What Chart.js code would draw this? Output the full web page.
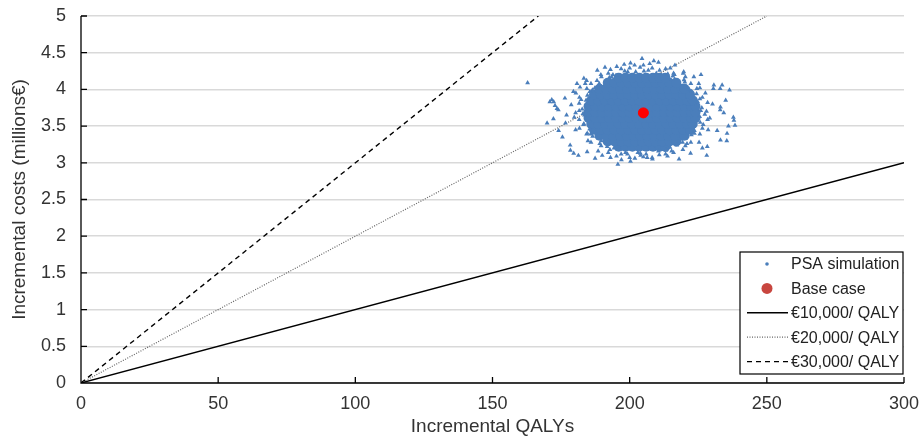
<!DOCTYPE html>
<html>
<head>
<meta charset="utf-8">
<script src="https://cdn.jsdelivr.net/npm/chart.js@4.4.1/dist/chart.umd.min.js"></script>
<style>
  html, body { margin: 0; padding: 0; background: #fff; }
  #wrap { width: 921px; height: 441px; }
</style>
</head>
<body>
<div id="wrap"><canvas id="ceChart" width="921" height="441"></canvas></div>
<script>
// Cost-effectiveness plane - PSA cloud, base case and WTP lines

// axis ticks
const xTicks = [0, 50, 100, 150, 200, 250, 300];
const yTicks = [0, 0.5, 1, 1.5, 2, 2.5, 3, 3.5, 4, 4.5, 5];
const yTickLabels = ['0', '0.5', '1', '1.5', '2', '2.5', '3', '3.5', '4', '4.5', '5'];

// base case (QALYs, millions €)
const baseCaseX = 205;
const baseCaseY = 3.68;

// willingness-to-pay lines, from the origin to the edge of the plot
const wtpLabels = ['€10,000/ QALY', '€20,000/ QALY', '€30,000/ QALY'];
const wtpEndX = [300, 250, 166.7];
const wtpEndY = [3, 5, 5];

// PSA simulation: dense middle of the cloud, one row per cost level
const psaCoreRows = [
    [3.22, [196, 198.5, 201, 203.5, 206, 208.5, 211, 213]],
    [3.29, [192, 194.5, 197, 199.5, 202, 204.5, 207, 209.5, 212, 214.5, 217]],
    [3.37, [189, 191.5, 194, 196.5, 199, 201.5, 204, 206.5, 209, 211.5, 214, 216.5, 219, 220]],
    [3.45, [187, 189.5, 192, 194.5, 197, 199.5, 202, 204.5, 207, 209.5, 212, 214.5, 217, 219.5, 222]],
    [3.53, [186, 188.5, 191, 193.5, 196, 198.5, 201, 203.5, 206, 208.5, 211, 213.5, 216, 218.5, 221, 223]],
    [3.61, [185, 187.5, 190, 192.5, 195, 197.5, 200, 202.5, 205, 207.5, 210, 212.5, 215, 217.5, 220, 222.5, 224]],
    [3.69, [185, 187.5, 190, 192.5, 195, 197.5, 200, 202.5, 205, 207.5, 210, 212.5, 215, 217.5, 220, 222.5, 224]],
    [3.77, [185, 187.5, 190, 192.5, 195, 197.5, 200, 202.5, 205, 207.5, 210, 212.5, 215, 217.5, 220, 222.5, 224]],
    [3.85, [186, 188.5, 191, 193.5, 196, 198.5, 201, 203.5, 206, 208.5, 211, 213.5, 216, 218.5, 221, 223]],
    [3.93, [187, 189.5, 192, 194.5, 197, 199.5, 202, 204.5, 207, 209.5, 212, 214.5, 217, 219.5, 222]],
    [4.01, [189, 191.5, 194, 196.5, 199, 201.5, 204, 206.5, 209, 211.5, 214, 216.5, 219, 220]],
    [4.09, [192, 194.5, 197, 199.5, 202, 204.5, 207, 209.5, 212, 214.5, 217]],
    [4.16, [196, 198.5, 201, 203.5, 206, 208.5, 211, 213]]
];

// PSA simulation: scattered runs round the edge of the cloud
const psaEdgeX = [
    226.3, 224.8, 224.4, 221.7, 220.1, 216.4, 213.9, 209.7, 206.8, 202.2, 199.3, 195.0,
    192.6, 188.9, 187.3, 184.6, 184.1, 182.7, 183.5, 183.3, 185.4, 186.5, 189.7, 191.8,
    195.8, 198.5, 203.0, 206.0, 210.5, 213.2, 217.2, 219.3, 222.5, 223.6, 225.7, 225.5,
    228.0, 228.4, 226.5, 225.6, 222.3, 220.3, 216.0, 213.1, 208.2, 205.0, 200.0, 196.9,
    192.2, 189.7, 185.9, 184.4, 181.7, 181.6, 180.3, 181.6, 181.7, 184.3, 185.9, 189.6,
    192.2, 196.9, 200.0, 205.0, 208.2, 213.1, 216.0, 220.3, 222.3, 225.6, 226.5, 228.4,
    225.9, 222.6, 215.7, 205.2, 193.4, 186.4, 183.0, 185.8, 194.3, 203.9, 214.7, 223.2,
    227.4, 225.6, 224.5, 219.8, 216.3, 210.9, 203.8, 198.2, 193.9, 188.1, 185.5, 182.3,
    181.6, 183.2, 184.6, 189.1, 192.8, 199.2, 204.0, 210.8, 215.3, 220.9, 223.6, 226.8,
    230.2, 227.6, 225.2, 219.5, 214.8, 207.3, 201.8, 195.3, 189.5, 183.8, 180.4, 178.7,
    179.8, 180.3, 184.8, 188.5, 195.2, 201.9, 208.3, 213.8, 219.4, 225.3, 228.6, 229.2,
    162.8, 195.7, 204.5, 238.0, 238.4, 236.4, 233.7, 169.9, 170.9, 172.3, 172.2, 174.1,
    178.4, 179.6, 184.5, 193.0, 200.3, 206.4, 222.2, 228.3, 233.1, 235.5, 188.2, 193.0,
    200.3, 208.8, 210.5, 219.7, 223.4, 230.7, 180.8, 183.3, 173.5, 176.6, 233.1, 234.3,
    231.9, 171.6, 172.8, 174.0, 176.4, 179.5, 181.9, 184.3, 178.3, 181.3, 187.4, 233.0,
    230.5, 237.8, 235.4, 233.0, 228.1, 216.5, 198.0, 191.0, 226.0, 226.5, 218.0, 197.0,
    190.0, 175.5, 177.0, 235.0, 236.0
];
const psaEdgeY = [
    3.75, 3.83, 3.94, 4.00, 4.10, 4.14, 4.21, 4.22, 4.26, 4.24, 4.24, 4.19,
    4.16, 4.08, 4.02, 3.92, 3.85, 3.73, 3.65, 3.53, 3.46, 3.36, 3.30, 3.22,
    3.19, 3.14, 3.14, 3.12, 3.16, 3.17, 3.24, 3.28, 3.38, 3.44, 3.55, 3.63,
    3.70, 3.82, 3.89, 4.02, 4.08, 4.17, 4.22, 4.28, 4.29, 4.33, 4.29, 4.28,
    4.22, 4.17, 4.08, 4.01, 3.89, 3.81, 3.68, 3.59, 3.47, 3.39, 3.28, 3.23,
    3.14, 3.12, 3.07, 3.08, 3.07, 3.12, 3.14, 3.23, 3.28, 3.39, 3.47, 3.59,
    3.71, 3.97, 4.18, 4.25, 4.17, 3.99, 3.67, 3.39, 3.20, 3.13, 3.21, 3.41,
    3.66, 3.87, 4.01, 4.13, 4.20, 4.26, 4.30, 4.25, 4.20, 4.12, 3.97, 3.86,
    3.71, 3.52, 3.40, 3.26, 3.18, 3.12, 3.10, 3.11, 3.16, 3.26, 3.40, 3.52,
    3.80, 3.95, 4.08, 4.22, 4.29, 4.35, 4.33, 4.31, 4.20, 4.08, 3.95, 3.79,
    3.62, 3.45, 3.30, 3.16, 3.09, 3.06, 3.05, 3.09, 3.18, 3.28, 3.45, 3.61,
    4.09, 2.98, 4.42, 3.58, 3.51, 3.99, 4.06, 3.54, 3.83, 3.83, 3.60, 3.44,
    3.17, 3.13, 3.15, 3.07, 3.02, 3.07, 3.13, 3.22, 3.31, 3.40, 4.26, 4.27,
    4.36, 4.39, 4.37, 4.24, 4.17, 4.06, 4.08, 4.15, 3.74, 3.54, 3.76, 3.68,
    3.44, 3.86, 3.78, 3.72, 3.88, 3.97, 4.03, 4.12, 3.24, 3.10, 3.06, 4.01,
    4.01, 3.62, 3.30, 3.72, 3.10, 4.33, 4.34, 4.30, 4.20, 3.20, 3.05, 3.04,
    3.10, 3.35, 3.65, 3.85, 3.50
];

const psaColor = '#4A7EBB';
const baseColor = '#FF0000';
const baseLegendColor = '#C8463F';
const fontFamily = '"Liberation Sans", Arial, sans-serif';

Chart.defaults.font.family = fontFamily;
Chart.defaults.color = '#333';

const psaCoreData = psaCoreRows.flatMap(([y, xs]) => xs.map(x => ({ x: x, y: y })));
const psaEdgeData = psaEdgeX.map((x, i) => ({ x: x, y: psaEdgeY[i] }));

const lineStyles = [
    { color: '#000', width: 1.4, dash: [] },
    { color: '#666', width: 1.2, dash: [1, 1.5] },
    { color: '#000', width: 1.4, dash: [5, 4] }
];

const wtpDatasets = wtpLabels.map((label, i) => ({
    type: 'line',
    label: label,
    data: [{ x: 0, y: 0 }, { x: wtpEndX[i], y: wtpEndY[i] }],
    borderColor: lineStyles[i].color,
    borderWidth: lineStyles[i].width,
    borderDash: lineStyles[i].dash,
    pointRadius: 0,
    fill: false,
    order: 3
}));

// stop the tick labels from pushing the plot area in
function clearAxisPadding(axis) {
    axis.paddingTop = 0;
    axis.paddingBottom = 0;
    axis.paddingLeft = 0;
    axis.paddingRight = 0;
}

// inward tick marks, axis lines and the boxed legend
const frameAndLegend = {
    id: 'frameAndLegend',
    afterDraw(chart) {
        const ctx = chart.ctx;
        const area = chart.chartArea;
        const xs = chart.scales.x;
        const ys = chart.scales.y;
        ctx.save();
        ctx.strokeStyle = '#000';
        ctx.lineWidth = 1.3;
        ctx.beginPath();
        ctx.moveTo(area.left, area.top);
        ctx.lineTo(area.left, area.bottom);
        ctx.lineTo(area.right, area.bottom);
        yTicks.forEach(v => {
            const py = ys.getPixelForValue(v);
            ctx.moveTo(area.left, py);
            ctx.lineTo(area.left + 6, py);
        });
        xTicks.forEach(v => {
            const px = xs.getPixelForValue(v);
            ctx.moveTo(px, area.bottom);
            ctx.lineTo(px, area.bottom - 6);
        });
        ctx.stroke();

        // legend box
        const boxW = 163, boxH = 122;
        const bx = area.right - 1 - boxW;
        const by = area.bottom - 9 - boxH;
        ctx.fillStyle = '#fff';
        ctx.fillRect(bx, by, boxW, boxH);
        ctx.strokeStyle = '#000';
        ctx.lineWidth = 1.2;
        ctx.setLineDash([]);
        ctx.strokeRect(bx, by, boxW, boxH);

        const entries = ['PSA simulation', 'Base case'].concat(wtpLabels);
        const symX = bx + 27;
        const textX = bx + 51;
        ctx.font = '16px ' + fontFamily;
        ctx.textBaseline = 'middle';
        ctx.textAlign = 'left';
        entries.forEach((label, i) => {
            const ey = by + 12 + i * 24.4;
            if (i === 0) {
                ctx.fillStyle = psaColor;
                ctx.beginPath();
                ctx.arc(symX, ey, 1.8, 0, Math.PI * 2);
                ctx.fill();
            } else if (i === 1) {
                ctx.fillStyle = baseLegendColor;
                ctx.beginPath();
                ctx.arc(symX, ey, 5.5, 0, Math.PI * 2);
                ctx.fill();
            } else {
                const st = lineStyles[i - 2];
                ctx.strokeStyle = st.color;
                ctx.lineWidth = st.width;
                ctx.setLineDash(st.dash);
                ctx.beginPath();
                ctx.moveTo(bx + 7, ey);
                ctx.lineTo(bx + 48, ey);
                ctx.stroke();
                ctx.setLineDash([]);
            }
            ctx.fillStyle = '#222';
            ctx.fillText(label, textX, ey + 1);
        });
        ctx.restore();
    }
};

new Chart(document.getElementById('ceChart'), {
    type: 'scatter',
    data: {
        datasets: [{
            label: 'Base case',
            data: [{ x: baseCaseX, y: baseCaseY }],
            backgroundColor: baseColor,
            borderColor: baseColor,
            pointRadius: 5,
            order: 0
        }, {
            label: 'PSA simulation',
            data: psaEdgeData,
            backgroundColor: psaColor,
            borderWidth: 0,
            pointStyle: 'triangle',
            pointRadius: 2.8,
            order: 1
        }, {
            label: 'PSA simulation core',
            data: psaCoreData,
            backgroundColor: psaColor,
            borderWidth: 0,
            pointStyle: 'circle',
            pointRadius: 5,
            order: 2
        }].concat(wtpDatasets)
    },
    options: {
        responsive: false,
        animation: false,
        layout: { padding: { top: 16, right: 17, left: 0, bottom: 0 } },
        plugins: {
            legend: { display: false },
            tooltip: { enabled: false }
        },
        scales: {
            x: {
                type: 'linear',
                min: 0,
                max: 300,
                afterBuildTicks: axis => { axis.ticks = xTicks.map(v => ({ value: v })); },
                afterFit: axis => { axis.height = 58; clearAxisPadding(axis); },
                grid: { display: false, drawTicks: false },
                border: { display: false },
                ticks: { font: { size: 18 }, padding: 10, color: '#333', maxRotation: 0 },
                title: {
                    display: true,
                    text: 'Incremental QALYs',
                    font: { size: 19 },
                    color: '#333',
                    padding: { top: 0, bottom: 3 }
                }
            },
            y: {
                type: 'linear',
                min: 0,
                max: 5,
                afterBuildTicks: axis => { axis.ticks = yTicks.map(v => ({ value: v })); },
                afterFit: axis => { axis.width = 81; clearAxisPadding(axis); },
                grid: { color: '#D9D9D9', lineWidth: 1.5, drawTicks: false },
                border: { display: false },
                ticks: {
                    font: { size: 18 },
                    padding: 15,
                    color: '#333',
                    callback: (value, index) => yTickLabels[index]
                },
                title: {
                    display: true,
                    text: 'Incremental costs (millions€)',
                    font: { size: 19 },
                    color: '#333',
                    padding: { top: 8, bottom: 0 }
                }
            }
        }
    },
    plugins: [frameAndLegend]
});
</script>
</body>
</html>
